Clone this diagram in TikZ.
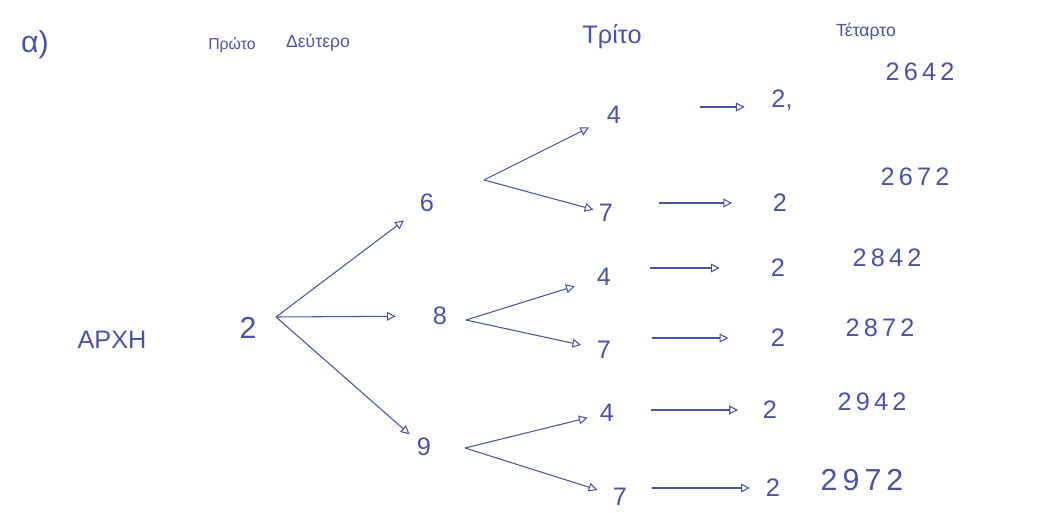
\documentclass[tikz,border=0pt]{standalone}
\usepackage{fontspec}
\setmainfont{Liberation Sans}
\usetikzlibrary{arrows.meta}
\definecolor{ink}{RGB}{72,82,172}
\tikzset{
  digit/.style={text=ink, font=\Large, inner sep=1pt},
  result/.style={text=ink, font=\Large, inner sep=1pt},
  head/.style={text=ink, inner sep=1pt},
  branch/.style={draw=ink, line width=0.6pt, -{Triangle[open, length=5pt, width=5pt]}},
}

\begin{document}
\begin{tikzpicture}[x=0.02cm, y=-0.02cm]
  \useasboundingbox (0, 0) rectangle (1045, 513);

  % headings
  \node [head, font=\LARGE] (part) at (35, 45){α)};
  \node [head, font=\small] (first) at (232, 45){Πρώτο};
  \node [head] (second) at (318, 43){Δεύτερο};
  \node [head, font=\Large] (third) at (612, 37){Τρίτο};
  \node [head] (fourth) at (866, 32){Τέταρτο};

  % start
  \node [head, font=\Large] (start) at (112, 340){ΑΡΧΗ};
  \node [digit, font=\LARGE] (root) at (248, 328){2};
  \coordinate (split) at (276, 317);

  % second digit
  \node [digit] (six) at (427, 203){6};
  \node [digit] (eight) at (440, 316){8};
  \node [digit] (nine) at (424, 447){9};
  \draw [branch, shorten >=10pt] (split)--(six);
  \draw [branch, shorten >=20pt] (split)--(eight);
  \draw [branch, shorten >=4pt] (split)--(nine);

  % third digit
  \coordinate (forksix) at (484, 180);
  \coordinate (forkeight) at (466, 320);
  \coordinate (forknine) at (465, 448);
  \node [digit] (sixfour) at (614, 115){4};
  \node [digit] (sixseven) at (606, 213){7};
  \node [digit] (eightfour) at (604, 277){4};
  \node [digit] (eightseven) at (604, 350){7};
  \node [digit] (ninefour) at (607, 413){4};
  \node [digit] (nineseven) at (620, 497){7};
  \draw [branch, shorten >=10pt] (forksix)--(sixfour);
  \draw [branch, shorten >=2pt] (forksix)--(sixseven);
  \draw [branch, shorten >=12pt] (forkeight)--(eightfour);
  \draw [branch, shorten >=8pt] (forkeight)--(eightseven);
  \draw [branch, shorten >=6pt] (forknine)--(ninefour);
  \draw [branch, shorten >=8pt] (forknine)--(nineseven);

  % fourth digit
  \node [digit] (endone) at (782, 100){2,};
  \node [digit] (endtwo) at (780, 203){2};
  \node [digit] (endthree) at (778, 268){2};
  \node [digit] (endfour) at (778, 338){2};
  \node [digit] (endfive) at (770, 410){2};
  \node [digit] (endsix) at (773, 488){2};
  \draw [branch, shorten <=44pt, shorten >=14pt] (sixfour.east |- 0, 107)--(endone.west |- 0, 107);
  \draw [branch, shorten <=25pt, shorten >=22pt] (sixseven.east |- endtwo)--(endtwo);
  \draw [branch, shorten <=21pt, shorten >=28pt] (eightfour.east |- endthree)--(endthree);
  \draw [branch, shorten <=22pt, shorten >=23pt] (eightseven.east |- endfour)--(endfour);
  \draw [branch, shorten <=20pt, shorten >=13pt] (ninefour.east |- endfive)--(endfive);
  \draw [branch, shorten <=13pt, shorten >=8pt] (nineseven.east |- endsix)--(endsix);

  % numbers
  \node [result] (numone) at (920, 72){2\,6\,4\,2};
  \node [result] (numtwo) at (915, 177){2\,6\,7\,2};
  \node [result] (numthree) at (887, 258){2\,8\,4\,2};
  \node [result] (numfour) at (880, 328){2\,8\,7\,2};
  \node [result] (numfive) at (872, 402){2\,9\,4\,2};
  \node [result, font=\LARGE] (numsix) at (862, 480){2\,9\,7\,2};
\end{tikzpicture}
\end{document}
